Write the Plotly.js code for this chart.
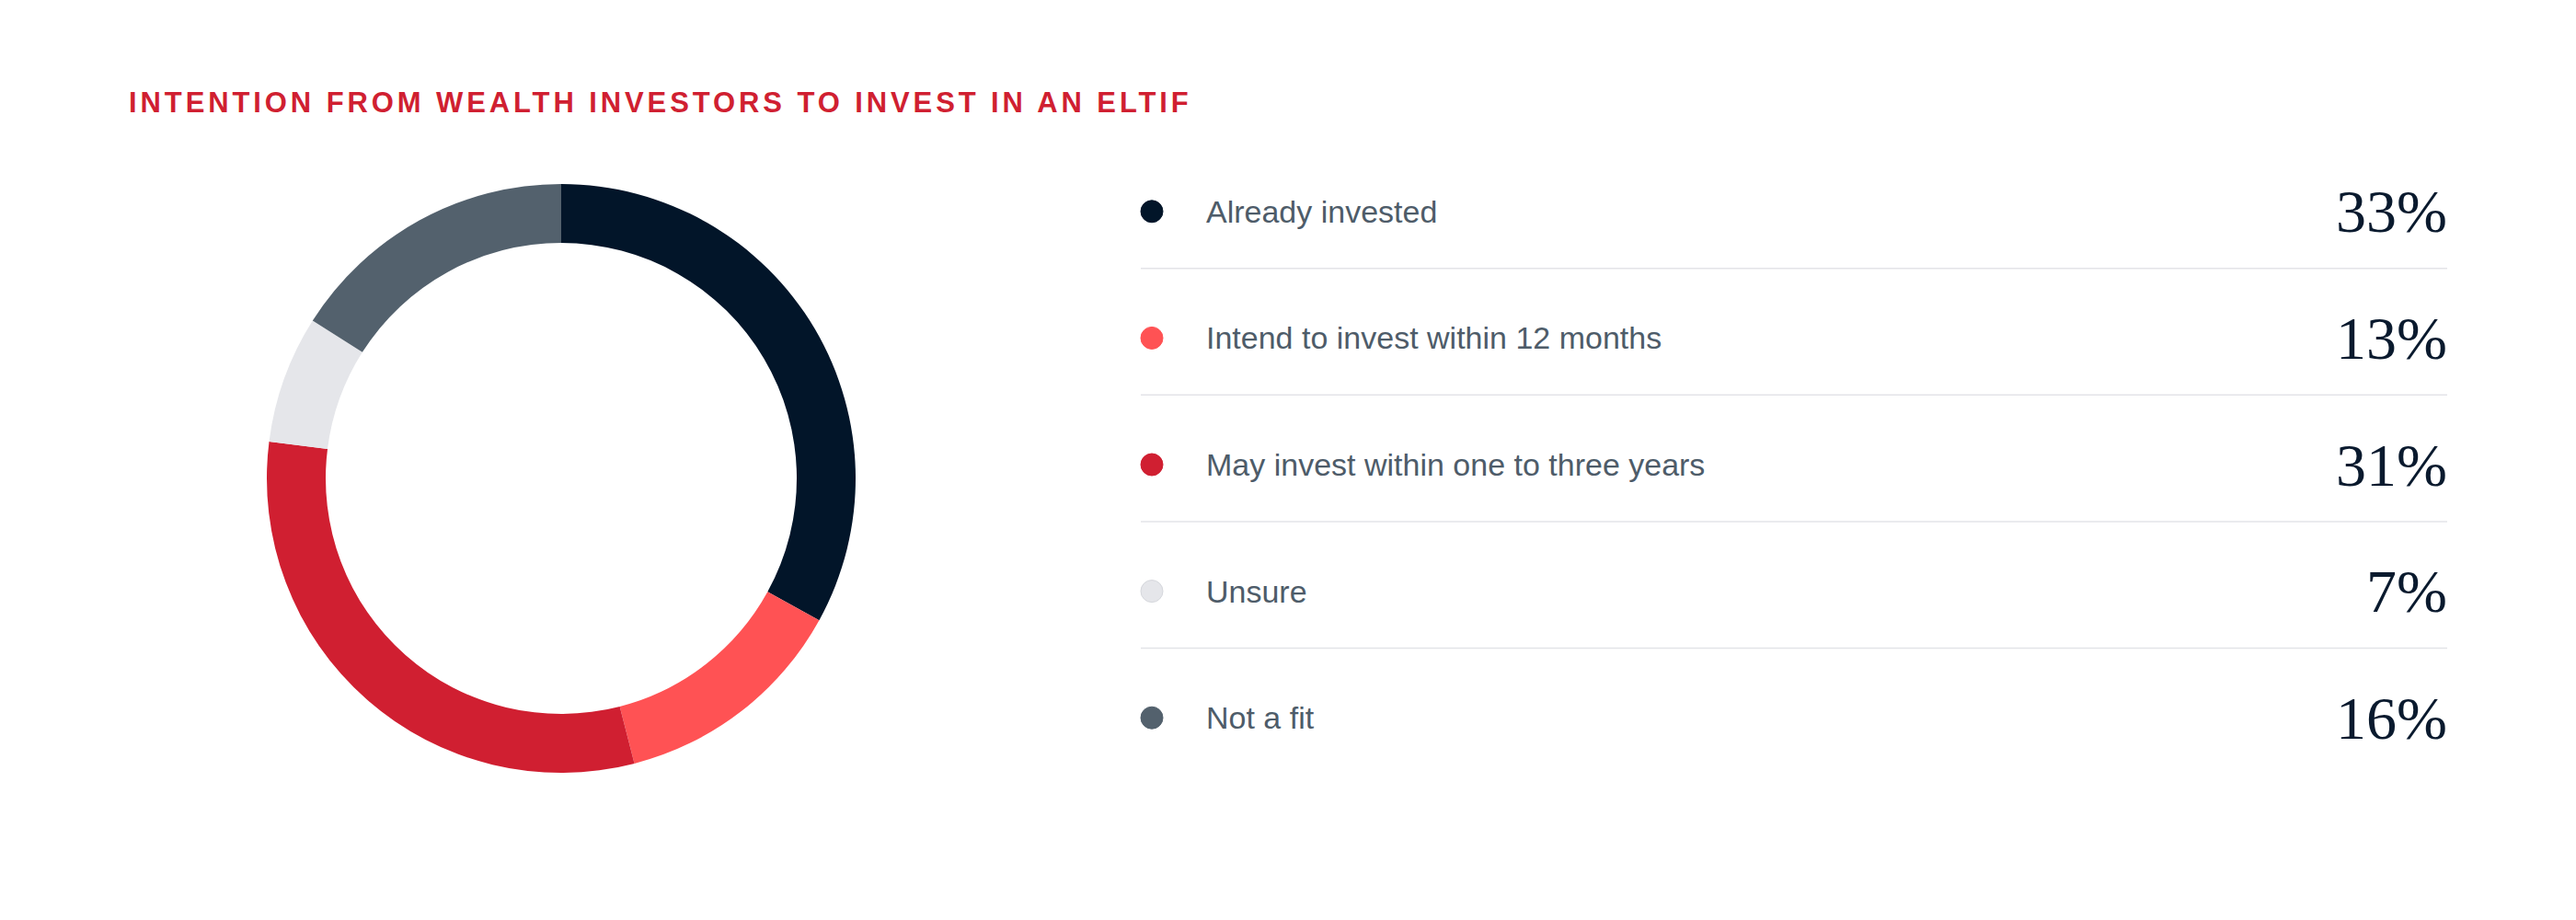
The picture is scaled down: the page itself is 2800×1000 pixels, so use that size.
<!DOCTYPE html>
<html>
<head>
<meta charset="utf-8">
<script src="https://cdn.plot.ly/plotly-3.0.1.min.js"></script>
<style>
  html, body { margin: 0; padding: 0; background: #fff; }
  #chart { width: 2800px; height: 1000px; }
  /* the heading is letter spaced */
  .gtitle { letter-spacing: 3.9px; }
</style>
</head>
<body>
<div id="chart"></div>
<script>
const categories = [
  'Already invested',
  'Intend to invest within 12 months',
  'May invest within one to three years',
  'Unsure',
  'Not a fit'
];
const shares = [33, 13, 31, 7, 16];
const sliceColors = ['#021529', '#FF5254', '#D01F31', '#E5E6EA', '#53616D'];
const chartTitle = 'INTENTION FROM WEALTH INVESTORS TO INVEST IN AN ELTIF';

const donut = {
  type: 'pie',
  labels: categories,
  values: shares,
  sort: false,
  direction: 'clockwise',
  rotation: 0,
  hole: 0.8,
  textinfo: 'none',
  hoverinfo: 'label+percent',
  marker: { colors: sliceColors, line: { width: 0 } },
  domain: { x: [290 / 2800, 930 / 2800], y: [0.16, 0.8] },
  showlegend: false
};

// legend dots, one per row
const dots = {
  type: 'scatter',
  mode: 'markers',
  x: categories.map(() => 0),
  y: categories,
  marker: {
    size: 24,
    color: sliceColors,
    line: { width: 1, color: sliceColors.map(c => c === '#E5E6EA' ? '#D5D7DC' : c) }
  },
  hoverinfo: 'skip',
  showlegend: false,
  cliponaxis: false
};

const annotations = [];
categories.forEach((name, i) => {
  annotations.push({
    x: 0, y: name, xref: 'x', yref: 'y',
    xshift: 57, xanchor: 'left', yanchor: 'middle',
    text: name, showarrow: false,
    font: { family: 'Liberation Sans, Arial, sans-serif', size: 34, color: '#4E5C69' }
  });
  annotations.push({
    x: 1, y: name, xref: 'x', yref: 'y',
    xshift: 3, xanchor: 'right', yanchor: 'middle',
    text: shares[i] + '%', showarrow: false,
    font: { family: 'Liberation Serif, Times New Roman, serif', size: 66, color: '#0A1A2E' }
  });
});

// thin rules between the rows
const shapes = categories.slice(0, -1).map((_, i) => ({
  type: 'line', xref: 'x domain', yref: 'y',
  x0: 0, x1: 1, y0: i + 0.45, y1: i + 0.45,
  line: { color: '#E3E4E8', width: 1.5 }
}));

const layout = {
  width: 2800,
  height: 1000,
  margin: { l: 0, r: 0, t: 0, b: 0 },
  paper_bgcolor: '#ffffff',
  plot_bgcolor: '#ffffff',
  title: {
    text: chartTitle,
    x: 140 / 2800, xref: 'paper', xanchor: 'left',
    y: 1 - 111 / 1000, yref: 'paper', yanchor: 'middle',
    font: { family: 'Liberation Sans, Arial, sans-serif', size: 31, weight: 700, color: '#D01F31' }
  },
  xaxis: {
    domain: [1240 / 2800, 2660 / 2800],
    range: [-12 / 1407, 1 + 1 / 1407],
    visible: false, fixedrange: true
  },
  yaxis: {
    type: 'category',
    domain: [1 - 849 / 1000, 1 - 161 / 1000],
    range: [4.5, -0.5],
    visible: false, fixedrange: true
  },
  shapes: shapes,
  annotations: annotations,
  showlegend: false
};

Plotly.newPlot('chart', [donut, dots], layout, { displayModeBar: false, staticPlot: true });
</script>
</body>
</html>
